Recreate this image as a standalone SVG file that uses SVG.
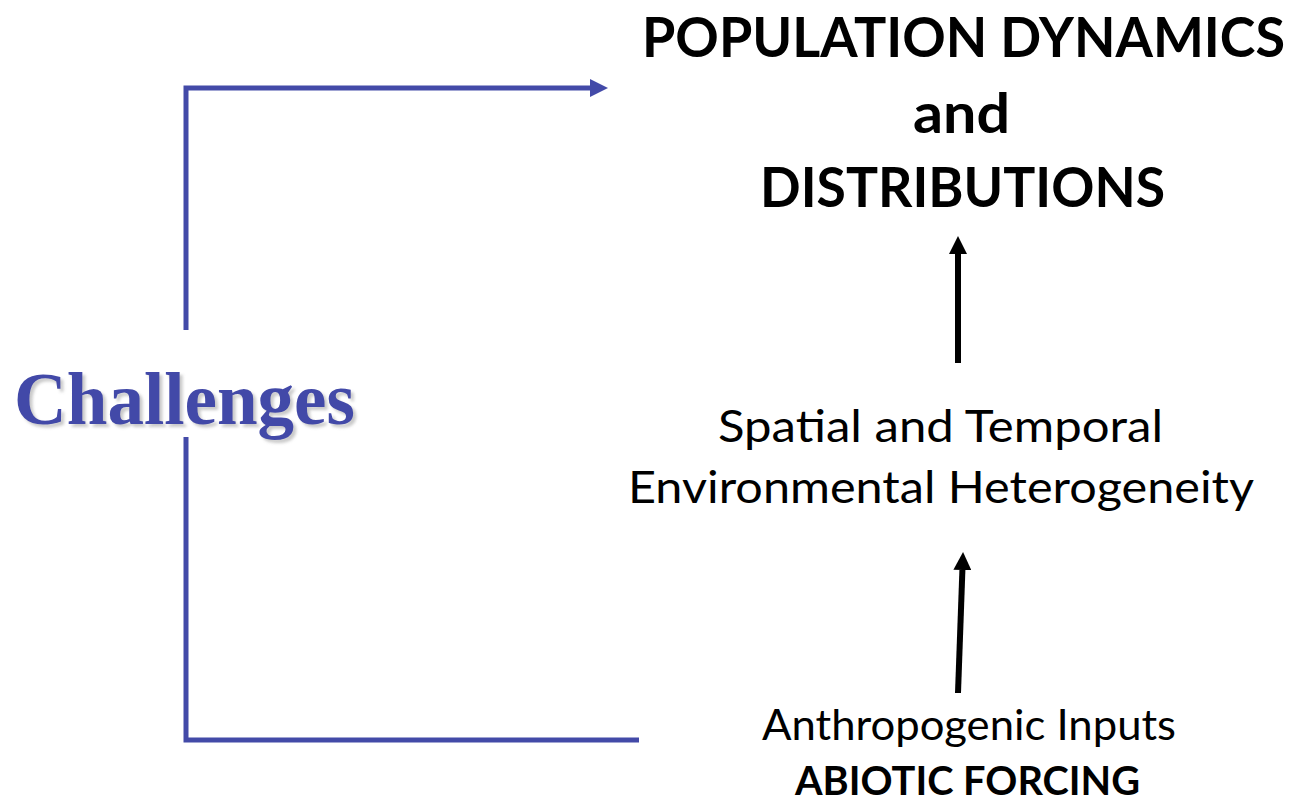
<svg xmlns="http://www.w3.org/2000/svg" width="1291" height="801" viewBox="0 0 1291 801">
<style>
.blue{fill:none;stroke:#434AA8;stroke-width:5;stroke-linejoin:miter}
.blk{fill:none;stroke:#000;stroke-width:6}
.t{font-family:Lato,"Open Sans",sans-serif;fill:#000}
.b{font-weight:bold}
.ch{font-family:"Liberation Serif","Times New Roman",serif;font-weight:bold;fill:#434AA8}
</style>
<defs>
<marker id="ab" viewBox="0 0 18 18" refX="0" refY="9" markerWidth="18" markerHeight="18" markerUnits="userSpaceOnUse" orient="auto"><path d="M0,0 L18,9 L0,18 z" fill="#434AA8"/></marker>
<marker id="ak" viewBox="0 0 18 18" refX="0" refY="9" markerWidth="18" markerHeight="18" markerUnits="userSpaceOnUse" orient="auto"><path d="M0,0 L18,9 L0,18 z" fill="#000"/></marker>
<filter id="sh" x="-10%" y="-20%" width="130%" height="150%"><feDropShadow dx="3" dy="3" stdDeviation="1.5" flood-color="#888" flood-opacity="0.45"/></filter>
</defs>
<g id="connectors">
<polyline class="blue" points="186,330 186,88 590,88" marker-end="url(#ab)"/>
<polyline class="blue" points="186,437 186,740 639,740"/>
<line class="blk" x1="958" y1="363" x2="958" y2="254" marker-end="url(#ak)"/>
<line class="blk" x1="958" y1="693" x2="962.4" y2="570" marker-end="url(#ak)"/>
</g>
<g id="challenges">
<text class="ch" x="14" y="424" font-size="73" textLength="341" lengthAdjust="spacingAndGlyphs" filter="url(#sh)">Challenges</text>
</g>
<g id="population">
<text class="t b" x="642" y="57" font-size="55" textLength="643" lengthAdjust="spacingAndGlyphs">POPULATION DYNAMICS</text>
<text class="t b" x="913" y="133" font-size="55" textLength="97" lengthAdjust="spacingAndGlyphs">and</text>
<text class="t b" x="760" y="207" font-size="55" textLength="405" lengthAdjust="spacingAndGlyphs">DISTRIBUTIONS</text>
</g>
<g id="heterogeneity">
<text class="t" x="718" y="442" font-size="45" textLength="445" lengthAdjust="spacingAndGlyphs">Spatial and Temporal</text>
<text class="t" x="628" y="503" font-size="45" textLength="626" lengthAdjust="spacingAndGlyphs">Environmental Heterogeneity</text>
</g>
<g id="forcing">
<text class="t" x="762" y="740" font-size="42" textLength="414" lengthAdjust="spacingAndGlyphs">Anthropogenic Inputs</text>
<text class="t b" x="795" y="795" font-size="41" textLength="345" lengthAdjust="spacingAndGlyphs">ABIOTIC FORCING</text>
</g>
</svg>
